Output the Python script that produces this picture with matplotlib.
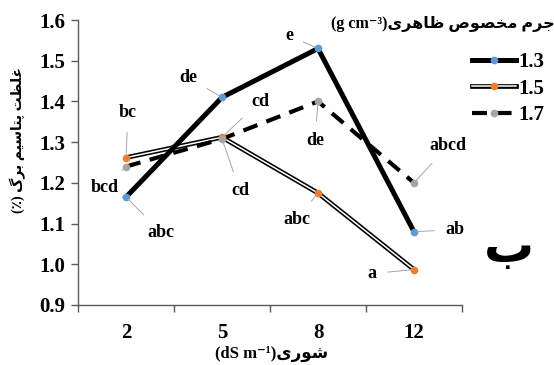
import matplotlib
matplotlib.use('Agg')
import matplotlib.pyplot as plt
from matplotlib.lines import Line2D
import numpy as np

# data
salinity = ['2', '5', '8', '12']
density_names = ['1.3', '1.5', '1.7']
k_13 = [1.165, 1.41, 1.53, 1.08]
k_15 = [1.262, 1.312, 1.175, 0.987]
k_17 = [1.240, 1.308, 1.400, 1.200]
letters_13 = ['abc', 'de', 'e', 'ab']
letters_15 = ['bc', 'cd', 'abc', 'a']
letters_17 = ['bcd', 'cd', 'de', 'abcd']

# label offsets in pixels (dx, dy)
offs_13 = [(35, -35), (-34, 20), (-29, 13), (41, 2)]
offs_15 = [(2, 45), (38, 36), (-21, -26), (-42, -4)]
offs_17 = [(-21, -21), (18, -52), (-3, -39), (34, 37)]

BLUE = '#5b9bd5'
ORANGE = '#ed7d31'
GREY = '#a5a5a5'
FONTS = ['Liberation Serif', 'DejaVu Sans']

# arabic presentation forms: isolated, final, initial, medial
FORMS = {
    'ا': ('\uFE8D', '\uFE8E', None, None),
    'ب': ('\uFE8F', '\uFE90', '\uFE91', '\uFE92'),
    'پ': ('\uFB56', '\uFB57', '\uFB58', '\uFB59'),
    'ت': ('\uFE95', '\uFE96', '\uFE97', '\uFE98'),
    'ج': ('\uFE9D', '\uFE9E', '\uFE9F', '\uFEA0'),
    'خ': ('\uFEA5', '\uFEA6', '\uFEA7', '\uFEA8'),
    'ر': ('\uFEAD', '\uFEAE', None, None),
    'س': ('\uFEB1', '\uFEB2', '\uFEB3', '\uFEB4'),
    'ش': ('\uFEB5', '\uFEB6', '\uFEB7', '\uFEB8'),
    'ص': ('\uFEB9', '\uFEBA', '\uFEBB', '\uFEBC'),
    'ظ': ('\uFEC5', '\uFEC6', '\uFEC7', '\uFEC8'),
    'غ': ('\uFECD', '\uFECE', '\uFECF', '\uFED0'),
    'ل': ('\uFEDD', '\uFEDE', '\uFEDF', '\uFEE0'),
    'م': ('\uFEE1', '\uFEE2', '\uFEE3', '\uFEE4'),
    'ه': ('\uFEE9', '\uFEEA', '\uFEEB', '\uFEEC'),
    'و': ('\uFEED', '\uFEEE', None, None),
    'ی': ('\uFBFC', '\uFBFD', '\uFBFE', '\uFBFF'),
    'گ': ('\uFB92', '\uFB93', '\uFB94', '\uFB95'),
}


def shape(text):
    # join letters and turn to visual (left to right) order
    out = []
    for i, ch in enumerate(text):
        if ch not in FORMS:
            out.append(ch)
            continue
        prev = text[i - 1] if i > 0 else None
        nxt = text[i + 1] if i + 1 < len(text) else None
        join_prev = prev in FORMS and FORMS[prev][2] is not None
        join_next = nxt in FORMS and FORMS[ch][2] is not None
        f = FORMS[ch]
        if join_prev and join_next:
            out.append(f[3])
        elif join_prev:
            out.append(f[1])
        elif join_next:
            out.append(f[2])
        else:
            out.append(f[0])
    return ''.join(out)[::-1]


fig = plt.figure(figsize=(5.54, 3.65), dpi=100)
ax = fig.add_axes([78 / 554, 60 / 365, 384 / 554, 285 / 365])

x = np.arange(len(salinity))

# 1.5 : double line
ax.plot(x, k_15, color='black', lw=3.4, solid_capstyle='butt', zorder=2)
ax.plot(x, k_15, color='white', lw=1.1, solid_capstyle='butt', zorder=2.1)
# 1.7 : dashed
ax.plot(x, k_17, color='black', lw=3.0, dashes=(3.6, 2.3), zorder=2.2)
# 1.3 : thick solid
ax.plot(x, k_13, color='black', lw=3.6, zorder=2.3)

ax.plot(x, k_15, 'o', color=ORANGE, ms=4.5, zorder=3)
ax.plot(x, k_17, 'o', color=GREY, ms=4.5, zorder=3)
ax.plot(x, k_13, 'o', color=BLUE, ms=4.5, zorder=3)

for vals, labs, offs in [(k_13, letters_13, offs_13), (k_15, letters_15, offs_15), (k_17, letters_17, offs_17)]:
    for xi, v, lab, (dx, dy) in zip(x, vals, labs, offs):
        ax.annotate(lab, (xi, v), xytext=(dx, dy), textcoords='offset pixels',
                    ha='center', va='center', fontsize=13, fontweight='bold', family=FONTS,
                    arrowprops=dict(arrowstyle='-', color='#a6a6a6', lw=0.7, shrinkA=6, shrinkB=2))

ax.set_xlim(-0.5, 3.5)
ax.set_ylim(0.9, 1.6)
ax.set_yticks(np.arange(0.9, 1.61, 0.1))
ax.set_yticklabels(['%.1f' % v for v in np.arange(0.9, 1.61, 0.1)])
ax.set_xticks(np.arange(-0.5, 3.6, 1.0))
ax.set_xticklabels([])
ax.set_xticks(x, minor=True)
ax.set_xticklabels(salinity, minor=True)
ax.tick_params(axis='x', which='major', direction='out', length=5, color='#595959', width=1)
ax.tick_params(axis='x', which='minor', length=0, pad=13)
ax.tick_params(axis='y', direction='out', length=5, color='#595959', width=1, pad=4)
for lab in ax.get_xticklabels(minor=True) + ax.get_yticklabels():
    lab.set_fontsize(15)
    lab.set_fontweight('bold')
    lab.set_family(FONTS)

for s in ['top', 'right']:
    ax.spines[s].set_visible(False)
for s in ['left', 'bottom']:
    ax.spines[s].set_color('#595959')
    ax.spines[s].set_linewidth(1)

fig.text(18 / 554, 1 - 140 / 365, '(٪) ' + shape('غلظت پتاسیم برگ'), rotation=90,
         ha='center', va='center', fontsize=10, fontweight='bold', family=FONTS)
fig.text(272 / 554, 1 - 354 / 365, '(dS m⁻¹)' + shape('شوری'),
         ha='center', va='center', fontsize=12, fontweight='bold', family=FONTS)
fig.text(443 / 554, 1 - 24 / 365, '(g cm⁻³)' + shape('جرم مخصوص ظاهری'),
         ha='center', va='center', fontsize=11.5, fontweight='bold', family=FONTS)
fig.text(509 / 554, 1 - 250 / 365, shape('ب'),
         ha='center', va='center', fontsize=36, fontweight='bold', family=FONTS)

h13 = Line2D([], [], color='black', lw=3.6, marker='o', mfc=BLUE, mec=BLUE, ms=4.5)
h15 = (Line2D([], [], color='black', lw=3.4),
       Line2D([], [], color='white', lw=1.1, marker='o', mfc=ORANGE, mec=ORANGE, ms=4.5))
h17 = Line2D([], [], color='black', lw=3.0, dashes=(3.6, 2.3), marker='o', mfc=GREY, mec=GREY, ms=4.5)
fig.legend([h13, h15, h17], density_names, loc='upper left', bbox_to_anchor=(462 / 554, 1 - 42 / 365),
           frameon=False, borderpad=0, handlelength=2.1, handletextpad=0.1, labelspacing=0.3,
           prop={'family': 'Liberation Serif', 'weight': 'bold', 'size': 15})

fig.savefig('out.png', dpi=100)
